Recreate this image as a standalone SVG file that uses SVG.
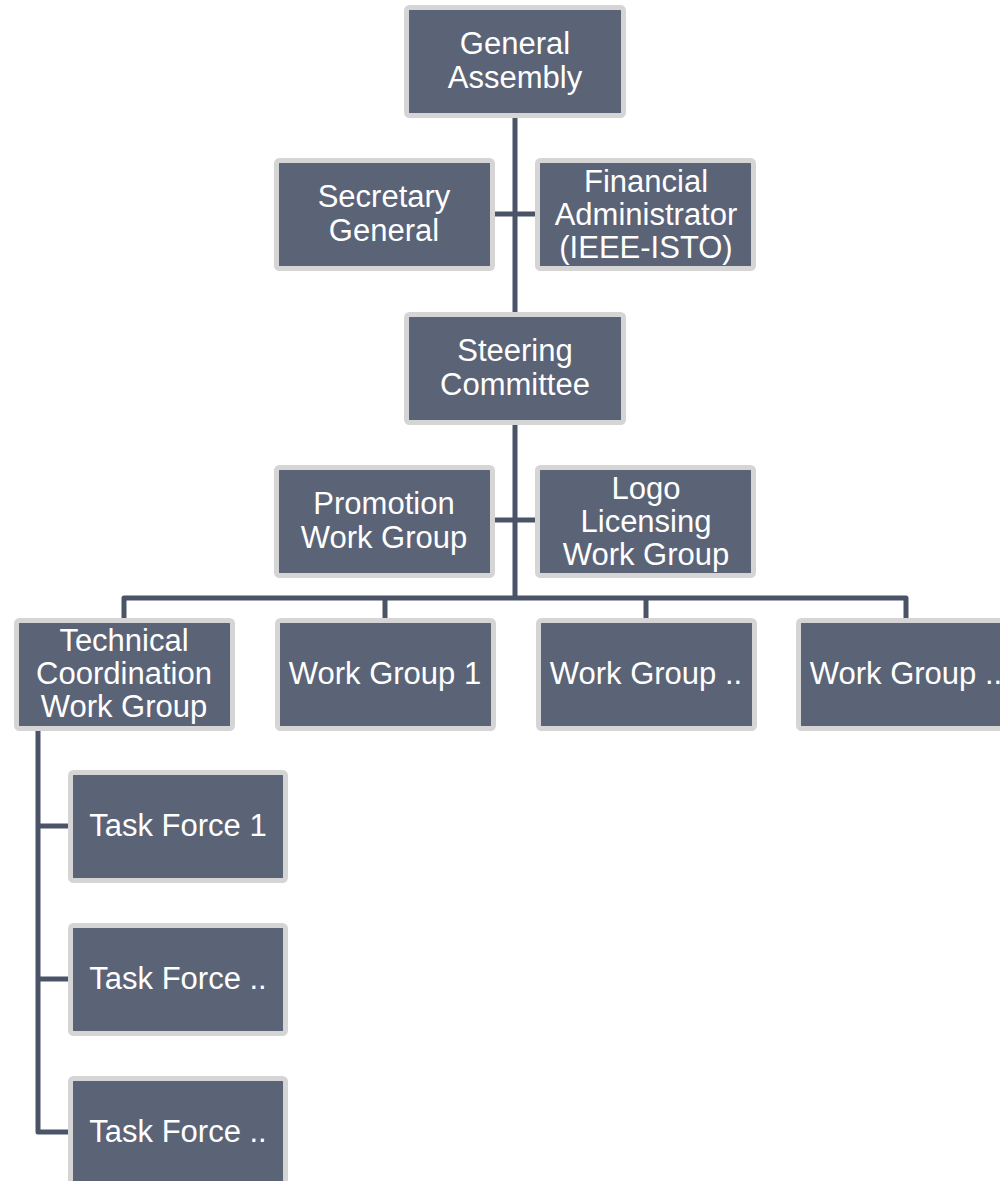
<svg xmlns="http://www.w3.org/2000/svg" width="1000" height="1181" viewBox="0 0 1000 1181">
<style>
.box{fill:#5b6377;stroke:#d5d5d5;stroke-width:5}
.lbl{font-family:"Liberation Sans",Arial,sans-serif;font-size:31px;fill:#ffffff;text-anchor:middle}
.con{fill:none;stroke:#4b5366;stroke-width:5;stroke-linejoin:round}
</style>
<rect width="1000" height="1181" fill="#ffffff"/>
<g id="connectors">
<path class="con" d="M515,118 V313"/>
<path class="con" d="M494,214 H535"/>
<path class="con" d="M515,425 V598"/>
<path class="con" d="M494,520 H535"/>
<path class="con" d="M124,618 V598 H906 V618"/>
<path class="con" d="M385,598 V618"/>
<path class="con" d="M646,598 V618"/>
<path class="con" d="M38,730 V1132 H68"/>
<path class="con" d="M38,826 H68"/>
<path class="con" d="M38,979 H68"/>
</g>
<g id="general-assembly">
<rect class="box" x="406.5" y="7.5" width="217" height="108" rx="3"/>
<text class="lbl" x="515" y="54">General</text>
<text class="lbl" x="515" y="88">Assembly</text>
</g>
<g id="secretary-general">
<rect class="box" x="276.5" y="160.5" width="216" height="108" rx="3"/>
<text class="lbl" x="384" y="207">Secretary</text>
<text class="lbl" x="384" y="241">General</text>
</g>
<g id="financial-administrator">
<rect class="box" x="537.5" y="160.5" width="216" height="108" rx="3"/>
<text class="lbl" x="646" y="191.5">Financial</text>
<text class="lbl" x="646" y="224.5">Administrator</text>
<text class="lbl" x="646" y="257.5">(IEEE-ISTO)</text>
</g>
<g id="steering-committee">
<rect class="box" x="406.5" y="314.5" width="217" height="108" rx="3"/>
<text class="lbl" x="515" y="361">Steering</text>
<text class="lbl" x="515" y="395">Committee</text>
</g>
<g id="promotion-work-group">
<rect class="box" x="276.5" y="467.5" width="216" height="108" rx="3"/>
<text class="lbl" x="384" y="514">Promotion</text>
<text class="lbl" x="384" y="548">Work Group</text>
</g>
<g id="logo-licensing-work-group">
<rect class="box" x="537.5" y="467.5" width="216" height="108" rx="3"/>
<text class="lbl" x="646" y="498.5">Logo</text>
<text class="lbl" x="646" y="531.5">Licensing</text>
<text class="lbl" x="646" y="564.5">Work Group</text>
</g>
<g id="technical-coordination-work-group">
<rect class="box" x="16.5" y="620.5" width="216" height="108" rx="3"/>
<text class="lbl" x="124" y="651">Technical</text>
<text class="lbl" x="124" y="684">Coordination</text>
<text class="lbl" x="124" y="717">Work Group</text>
</g>
<g id="work-group-1">
<rect class="box" x="277.5" y="620.5" width="216" height="108" rx="3"/>
<text class="lbl" x="385" y="683.5">Work Group 1</text>
</g>
<g id="work-group-2">
<rect class="box" x="538.5" y="620.5" width="216" height="108" rx="3"/>
<text class="lbl" x="646" y="683.5">Work Group ..</text>
</g>
<g id="work-group-3">
<rect class="box" x="798.5" y="620.5" width="216" height="108" rx="3"/>
<text class="lbl" x="906" y="683.5">Work Group ..</text>
</g>
<g id="task-force-1">
<rect class="box" x="70.5" y="772.5" width="215" height="108" rx="3"/>
<text class="lbl" x="178" y="836">Task Force 1</text>
</g>
<g id="task-force-2">
<rect class="box" x="70.5" y="925.5" width="215" height="108" rx="3"/>
<text class="lbl" x="178" y="989">Task Force ..</text>
</g>
<g id="task-force-3">
<rect class="box" x="70.5" y="1078.5" width="215" height="108" rx="3"/>
<text class="lbl" x="178" y="1142">Task Force ..</text>
</g>
</svg>
